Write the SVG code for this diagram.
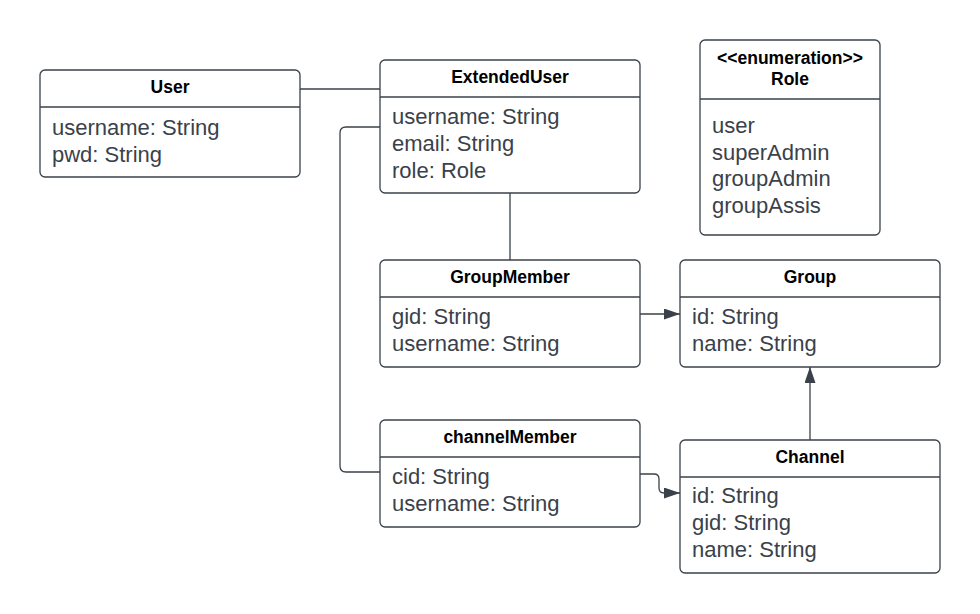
<svg xmlns="http://www.w3.org/2000/svg" width="980" height="614" viewBox="0 0 980 614">
<style>
.box{fill:#fff;stroke:#3a414a;stroke-width:1.3}
.div{stroke:#3a414a;stroke-width:1.3}
.t{font-family:"Liberation Sans",Arial,sans-serif;font-weight:bold;font-size:17.5px;fill:#000;text-anchor:middle}
.a{font-family:"Liberation Sans",Arial,sans-serif;font-size:22px;fill:#3a414a}
.c{fill:none;stroke:#3a414a;stroke-width:1.3}
</style>
<defs>
<marker id="arr" viewBox="0 0 16 11" refX="16" refY="5.5" markerWidth="16" markerHeight="11" markerUnits="userSpaceOnUse" orient="auto">
<path d="M0,0 L16,5.5 L0,11 Z" fill="#3a414a"/>
</marker>
</defs>
<rect width="980" height="614" fill="#fff"/>
<g id="connectors">
<path class="c" d="M300,89 H380"/>
<path class="c" d="M510,193 V260"/>
<path class="c" d="M380,127 H346 Q340,127 340,133 V466 Q340,472 346,472 H380"/>
<path class="c" d="M640,314 H680" marker-end="url(#arr)"/>
<path class="c" d="M640,474 H654 Q659,474 659,479 V488 Q659,493 664,493 H680" marker-end="url(#arr)"/>
<path class="c" d="M810,440 V367" marker-end="url(#arr)"/>
</g>
<g id="User">
<rect class="box" x="40" y="70" width="260" height="107" rx="5"/>
<line class="div" x1="40" y1="107" x2="300" y2="107"/>
<text class="t" x="170" y="93">User</text>
<text class="a" x="52" y="135">username: String</text>
<text class="a" x="52" y="162">pwd: String</text>
</g>
<g id="ExtendedUser">
<rect class="box" x="380" y="60" width="260" height="133" rx="5"/>
<line class="div" x1="380" y1="97" x2="640" y2="97"/>
<text class="t" x="510" y="83">ExtendedUser</text>
<text class="a" x="392" y="124">username: String</text>
<text class="a" x="392" y="151">email: String</text>
<text class="a" x="392" y="178">role: Role</text>
</g>
<g id="Role">
<rect class="box" x="700" y="40" width="180" height="195" rx="5"/>
<line class="div" x1="700" y1="99" x2="880" y2="99"/>
<text class="t" x="790" y="64">&lt;&lt;enumeration&gt;&gt;</text>
<text class="t" x="790" y="85">Role</text>
<text class="a" x="712" y="133">user</text>
<text class="a" x="712" y="160">superAdmin</text>
<text class="a" x="712" y="186">groupAdmin</text>
<text class="a" x="712" y="213">groupAssis</text>
</g>
<g id="GroupMember">
<rect class="box" x="380" y="260" width="260" height="107" rx="5"/>
<line class="div" x1="380" y1="297" x2="640" y2="297"/>
<text class="t" x="510" y="283">GroupMember</text>
<text class="a" x="392" y="324">gid: String</text>
<text class="a" x="392" y="351">username: String</text>
</g>
<g id="Group">
<rect class="box" x="680" y="260" width="260" height="107" rx="5"/>
<line class="div" x1="680" y1="297" x2="940" y2="297"/>
<text class="t" x="810" y="283">Group</text>
<text class="a" x="692" y="324">id: String</text>
<text class="a" x="692" y="351">name: String</text>
</g>
<g id="channelMember">
<rect class="box" x="380" y="420" width="260" height="107" rx="5"/>
<line class="div" x1="380" y1="457" x2="640" y2="457"/>
<text class="t" x="510" y="443">channelMember</text>
<text class="a" x="392" y="484">cid: String</text>
<text class="a" x="392" y="511">username: String</text>
</g>
<g id="Channel">
<rect class="box" x="680" y="440" width="260" height="133" rx="5"/>
<line class="div" x1="680" y1="477" x2="940" y2="477"/>
<text class="t" x="810" y="463">Channel</text>
<text class="a" x="692" y="503">id: String</text>
<text class="a" x="692" y="530">gid: String</text>
<text class="a" x="692" y="557">name: String</text>
</g>
</svg>
